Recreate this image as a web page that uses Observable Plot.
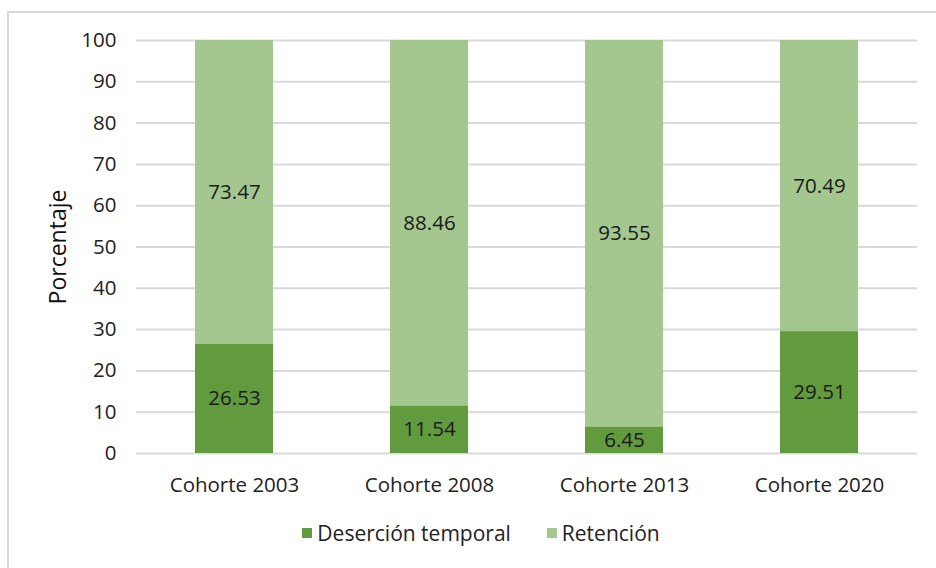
<!DOCTYPE html>
<html>
<head>
<meta charset="utf-8">
<script src="https://cdn.jsdelivr.net/npm/d3@7"></script>
<script src="https://cdn.jsdelivr.net/npm/@observablehq/plot@0.6"></script>
<style>
  html, body { margin: 0; padding: 0; background: #fff; width: 936px; height: 568px; overflow: hidden; font-family: "Open Sans", Lato, sans-serif; }
  #frame { position: absolute; left: 7px; top: 11px; width: 1000px; height: 600px; border: 2px solid #d9d9d9; box-sizing: border-box; }
  #chart { position: absolute; left: 0; top: 0; }
  #legend { position: absolute; left: 0; top: 519px; width: 936px; display: flex; justify-content: center; gap: 36px; font-size: 21px; color: #222; padding-left: 26px; box-sizing: border-box; }
  .item { display: flex; align-items: center; gap: 5px; }
  .sw { width: 10px; height: 10px; display: inline-block; }
</style>
</head>
<body>
<div id="frame"></div>
<div id="chart"></div>
<div id="legend"></div>
<script>
const cohorts = ["Cohorte 2003", "Cohorte 2008", "Cohorte 2013", "Cohorte 2020"];
const series = ["Deserción temporal", "Retención"];
const desercion = [26.53, 11.54, 6.45, 29.51];
const retencion = [73.47, 88.46, 93.55, 70.49];
const colors = ["#629a3e", "#a3c78f"];
const yTicks = [0, 10, 20, 30, 40, 50, 60, 70, 80, 90, 100];

const data = [];
cohorts.forEach((c, i) => {
  data.push({cohort: c, serie: series[0], value: desercion[i]});
  data.push({cohort: c, serie: series[1], value: retencion[i]});
});

const chart = Plot.plot({
  width: 936,
  height: 510,
  marginTop: 40,
  marginBottom: 57,
  marginLeft: 136,
  marginRight: 19,
  style: {fontFamily: "'Open Sans', Lato, sans-serif", fontSize: "20.5px", color: "#222", background: "transparent"},
  x: {domain: cohorts, paddingInner: 0.6, paddingOuter: 0.3, label: null, tickSize: 0, tickPadding: 24},
  y: {domain: [0, 100], ticks: yTicks, tickSize: 0, tickPadding: 20, label: null},
  color: {domain: series, range: colors},
  marks: [
    Plot.ruleY(yTicks, {stroke: "#d9d9d9", strokeWidth: 2, strokeOpacity: 1}),
    Plot.barY(data, Plot.stackY({x: "cohort", y: "value", fill: "serie", order: null})),
    Plot.text(data, Plot.stackY({x: "cohort", y: "value", z: "serie", order: null, text: d => d.value.toFixed(2), fill: "#1a1a1a", fontSize: 20.5})),
    Plot.axisY({ticks: yTicks, tickSize: 0, tickPadding: 20, label: null, fontSize: 20.5}),
    Plot.text(["Porcentaje"], {frameAnchor: "left", textAnchor: "middle", dx: -78, rotate: -90, fontSize: 23, fill: "#111"})
  ]
});
document.getElementById("chart").appendChild(chart);

const legend = document.getElementById("legend");
series.forEach((s, i) => {
  const it = document.createElement("div");
  it.className = "item";
  const sw = document.createElement("span");
  sw.className = "sw";
  sw.style.background = colors[i];
  const t = document.createElement("span");
  t.textContent = s;
  it.appendChild(sw); it.appendChild(t);
  legend.appendChild(it);
});
</script>
</body>
</html>
